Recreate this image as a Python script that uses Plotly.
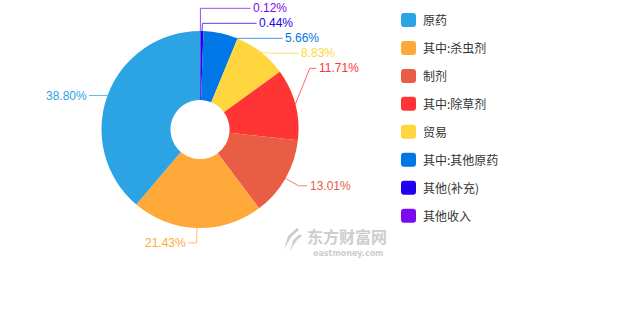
import math
import plotly.graph_objects as go

# ---- data ----
labels = ['原药', '其中:杀虫剂', '制剂', '其中:除草剂', '贸易', '其中:其他原药', '其他(补充)', '其他收入']
values = [38.80, 21.43, 13.01, 11.71, 8.83, 5.66, 0.44, 0.12]
colors = ['#2ca4e3', '#ffa93b', '#e85d44', '#ff3434', '#ffd63d', '#0077e6', '#2201ee', '#7b0aee']

# ---- layout constants ----
W, H = 630, 330
CX, CY, R = 200.0, 129.5, 98.5
HOLE = 0.30
LEN1, LEN2 = 15.0, 10.0
SPACING = 15.0
ELL_R, ELL_L, MIN_DX = 115.0, 14.0, 52.0
TOP = 8.0
FLAT_COS = 0.42
FONT = 'Liberation Sans, Noto Sans CJK SC, sans-serif'
CJK = 'Noto Sans CJK SC, Microsoft YaHei, sans-serif'


def px(x):
    return x / W


def py(y):
    return 1 - y / H


# slices run counter-clockwise from 12 o'clock in legend order; drawn as the
# reversed list going clockwise, which gives the same arrangement
fig = go.Figure()
fig.add_trace(go.Pie(
    labels=labels[::-1], values=values[::-1], sort=False, direction='clockwise', rotation=0,
    hole=HOLE, textinfo='none', showlegend=False,
    marker=dict(colors=colors[::-1], line=dict(width=0)),
    domain=dict(x=[px(CX - R), px(CX + R)], y=[py(CY + R), py(CY - R)]),
))

# ---- label geometry computed from values ----
total = sum(values)
items = []
cum = 0.0
for i, v in enumerate(values):
    frac = v / total
    mid = cum + frac / 2
    cum += frac
    th = math.radians(360 * (1 - mid))  # clockwise from top
    s, c = math.sin(th), math.cos(th)
    d = 1 if s >= 0 else -1
    p1 = (CX + R * s, CY - R * c)
    p2 = (CX + (R + LEN1) * s, CY - (R + LEN1) * c)
    items.append(dict(i=i, dir=d, cos=c, p1=p1, p2=p2, ny=p2[1], ay=p2[1]))

groups = {}
for it in items:
    key = (it['dir'], it['ny'] < CY)
    groups.setdefault(key, []).append(it)
for key, g in groups.items():
    g.sort(key=lambda t: t['ny'])
    overlap = any(g[k + 1]['ny'] - g[k]['ny'] < SPACING for k in range(len(g) - 1))
    if overlap:
        mean = sum(t['ny'] for t in g) / len(g)
        n = len(g)
        for k, t in enumerate(g):
            t['ay'] = mean + (k - (n - 1) / 2) * SPACING
        if g[0]['ay'] < TOP:
            sh = TOP - g[0]['ay']
            for t in g:
                t['ay'] += sh

shapes = []
annotations = []
for it in items:
    d = it['dir']
    ay = it['ay']
    col = colors[it['i']]
    if abs(ay - it['ny']) > 0.5:
        dy = abs(ay - CY)
        dx = math.sqrt(max(ELL_R ** 2 - dy ** 2, 0))
        elbow = (it['p2'][0], ay)
        off = max(dx + ELL_L, MIN_DX, d * (elbow[0] - CX) + 8)
        tx = CX + d * off
    elif abs(it['cos']) < FLAT_COS:
        ay = it['p1'][1]
        elbow = it['p1']
        tx = it['p1'][0] + d * (LEN1 + 5)
    else:
        elbow = it['p2']
        tx = it['p2'][0] + d * LEN2
    end = (tx - d * 1.5, ay)
    path = 'M {} {} L {} {} L {} {}'.format(px(it['p1'][0]), py(it['p1'][1]),
                                            px(elbow[0]), py(elbow[1]),
                                            px(end[0]), py(end[1]))
    shapes.append(dict(type='path', path=path, xref='paper', yref='paper', layer='below',
                       line=dict(color=col, width=1), opacity=0.75))
    annotations.append(dict(text='{:.2f}%'.format(values[it['i']]), x=px(tx), y=py(ay),
                            xref='paper', yref='paper', showarrow=False,
                            xanchor='left' if d > 0 else 'right', yanchor='middle',
                            font=dict(family=FONT, size=12, color=col), borderpad=0))

# ---- custom legend ----
LX, LY0, LSTEP, IW, IH, RAD = 401.0, 20.0, 27.95, 15.0, 14.0, 3.0
for i, lab in enumerate(labels):
    yc = LY0 + i * LSTEP
    x0, x1, y0, y1 = LX, LX + IW, yc - IH / 2, yc + IH / 2
    pts = [
        ('M', x0 + RAD, y0), ('L', x1 - RAD, y0), ('Q', x1, y0, x1, y0 + RAD),
        ('L', x1, y1 - RAD), ('Q', x1, y1, x1 - RAD, y1), ('L', x0 + RAD, y1),
        ('Q', x0, y1, x0, y1 - RAD), ('L', x0, y0 + RAD), ('Q', x0, y0, x0 + RAD, y0),
    ]
    segs = []
    for p in pts:
        if p[0] == 'Q':
            segs.append('Q {} {} {} {}'.format(px(p[1]), py(p[2]), px(p[3]), py(p[4])))
        else:
            segs.append('{} {} {}'.format(p[0], px(p[1]), py(p[2])))
    shapes.append(dict(type='path', path=' '.join(segs) + ' Z', xref='paper', yref='paper',
                       fillcolor=colors[i], line=dict(width=0)))
    annotations.append(dict(text=lab, x=px(LX + IW + 5), y=py(yc), xref='paper', yref='paper',
                            showarrow=False, xanchor='left', yanchor='middle',
                            font=dict(family=CJK, size=12, color='#333333')))

# ---- watermark ----
annotations.append(dict(text='<b>东方财富网</b>', x=px(347), y=py(236), xref='paper', yref='paper',
                        showarrow=False, xanchor='center', yanchor='middle', borderpad=0,
                        font=dict(family=CJK, size=16, color='#cdcdcd')))
annotations.append(dict(text='<b>eastmoney.com</b>', x=px(348), y=py(253.5), xref='paper', yref='paper',
                        showarrow=False, xanchor='center', yanchor='middle', borderpad=0,
                        font=dict(family='DejaVu Sans, sans-serif', size=8, color='#cdcdcd')))
logo = [
    [(297, 228), (288, 236), (284, 250), (287, 244), (292, 236), (299, 230)],
    [(300, 234), (293, 240), (290, 252), (293, 246), (297, 240), (302, 236)],
]
for pl in logo:
    path = 'M ' + ' L '.join('{} {}'.format(px(a), py(b)) for a, b in pl) + ' Z'
    shapes.append(dict(type='path', path=path, xref='paper', yref='paper',
                       fillcolor='#cdcdcd', line=dict(width=0)))

fig.update_layout(
    width=W, height=H, margin=dict(l=0, r=0, t=0, b=0),
    paper_bgcolor='white', plot_bgcolor='white',
    shapes=shapes, annotations=annotations, showlegend=False,
)
fig.write_html('out.html')
